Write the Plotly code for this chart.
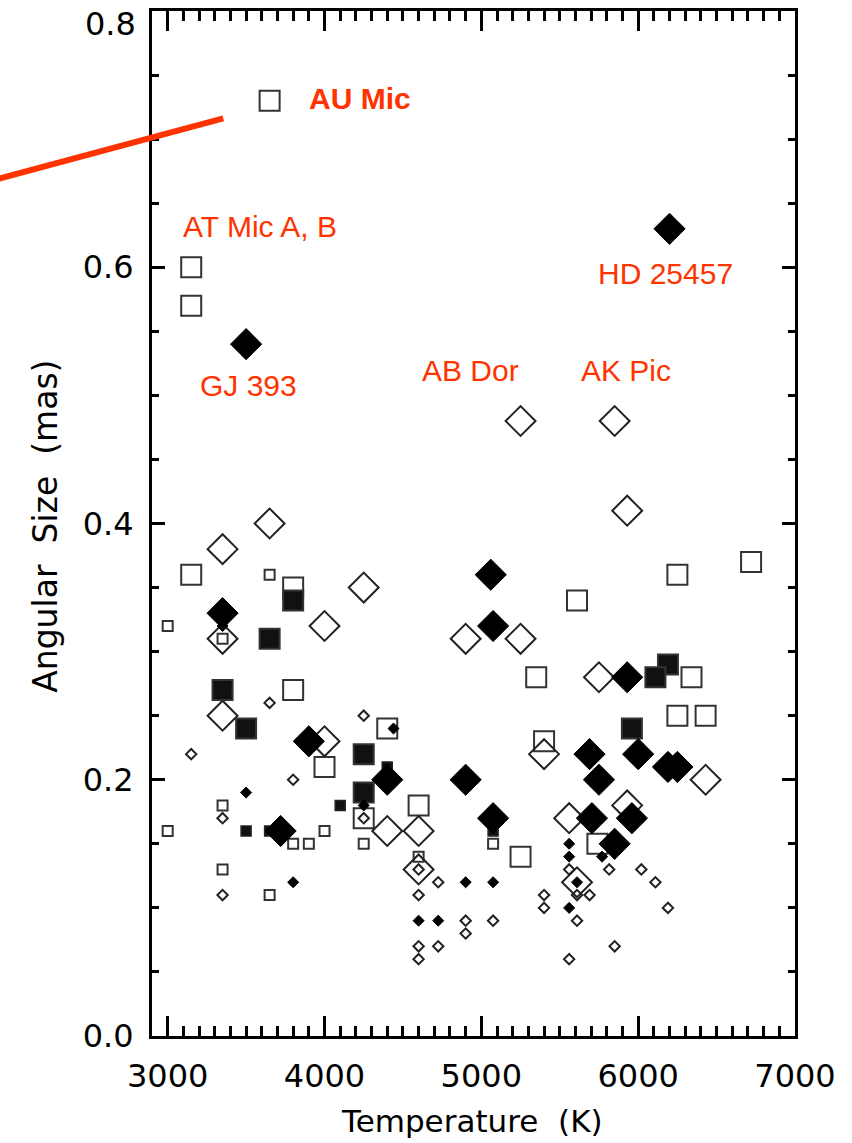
import plotly.graph_objects as go

# ---- data (temperature K, angular size mas) ----
open_sq_large_T = [3650, 3150, 3150, 3150, 3800, 3800, 4000, 4400, 4250, 4600, 5250, 5350, 5400, 5610, 5740, 6250, 6340, 6250, 6430, 6720]
open_sq_large_A = [0.73, 0.60, 0.57, 0.36, 0.35, 0.27, 0.21, 0.24, 0.17, 0.18, 0.14, 0.28, 0.23, 0.34, 0.15, 0.36, 0.28, 0.25, 0.25, 0.37]

open_sq_small_T = [3000, 3650, 3350, 3000, 3350, 3350, 3650, 3800, 3900, 4000, 4250, 4600, 5075]
open_sq_small_A = [0.32, 0.36, 0.31, 0.16, 0.18, 0.13, 0.11, 0.15, 0.15, 0.16, 0.15, 0.14, 0.15]

open_dia_large_T = [5250, 5850, 5930, 3650, 3350, 4250, 4000, 3350, 4900, 5250, 3350, 4000, 5750, 5400, 6430, 4400, 4600, 4600, 5560, 5930, 5610]
open_dia_large_A = [0.48, 0.48, 0.41, 0.40, 0.38, 0.35, 0.32, 0.31, 0.31, 0.31, 0.25, 0.23, 0.28, 0.22, 0.20, 0.16, 0.16, 0.13, 0.17, 0.18, 0.12]

open_dia_small_T = [3650, 3150, 4250, 3800, 3350, 3350, 4250, 4600, 4600, 4725, 4600, 4600, 4725, 4900, 4900, 5075, 5400, 5400, 5560, 5610, 5690, 5610, 5560, 5815, 6020, 6110, 6190, 5850]
open_dia_small_A = [0.26, 0.22, 0.25, 0.20, 0.17, 0.11, 0.17, 0.13, 0.11, 0.12, 0.07, 0.06, 0.07, 0.09, 0.08, 0.09, 0.11, 0.10, 0.13, 0.11, 0.11, 0.09, 0.06, 0.13, 0.13, 0.12, 0.10, 0.07]

filled_sq_large_T = [3800, 3650, 3350, 3500, 4250, 4250, 6190, 6110, 5960]
filled_sq_large_A = [0.34, 0.31, 0.27, 0.24, 0.22, 0.19, 0.29, 0.28, 0.24]

filled_sq_small_T = [3500, 4100, 3650, 4400, 5075]
filled_sq_small_A = [0.16, 0.18, 0.16, 0.21, 0.16]

filled_dia_large_T = [3500, 6200, 3350, 5060, 5075, 3900, 4400, 4900, 3720, 5930, 5690, 6000, 5750, 6190, 6250, 5075, 5705, 5960, 5850]
filled_dia_large_A = [0.54, 0.63, 0.33, 0.36, 0.32, 0.23, 0.20, 0.20, 0.16, 0.28, 0.22, 0.22, 0.20, 0.21, 0.21, 0.17, 0.17, 0.17, 0.15]

filled_dia_small_T = [3500, 3800, 4900, 5075, 4600, 4725, 4440, 5560, 5560, 5770, 5610, 5560, 3350, 4250]
filled_dia_small_A = [0.19, 0.12, 0.12, 0.12, 0.09, 0.09, 0.24, 0.15, 0.14, 0.14, 0.12, 0.10, 0.32, 0.18]

x_ticks = [3000, 4000, 5000, 6000, 7000]
y_ticks = [0.0, 0.2, 0.4, 0.6, 0.8]

labels = ["AU Mic", "AT Mic A, B", "HD 25457", "GJ 393", "AB Dor", "AK Pic"]
label_T = [3891, 3084, 5732, 3192, 4608, 5624]
label_A = [0.732, 0.632, 0.595, 0.508, 0.5195, 0.5195]
label_bold = [True, False, False, False, False, False]

RED = "#FF3300"
TICKFONT = dict(family="DejaVu Sans", size=32, color="black")

fig = go.Figure()

def add(T, A, symbol, size, fill, line_color, lw):
    fig.add_trace(go.Scatter(
        x=T, y=A, mode="markers", showlegend=False, hoverinfo="skip",
        marker=dict(symbol=symbol, size=size, color=fill,
                    line=dict(color=line_color, width=lw))))

add(open_sq_large_T, open_sq_large_A, "square", 20, "rgba(0,0,0,0)", "#333333", 2)
add(open_sq_small_T, open_sq_small_A, "square", 10, "rgba(0,0,0,0)", "#333333", 2)
add(open_dia_large_T, open_dia_large_A, "diamond", 23, "rgba(0,0,0,0)", "#222222", 2)
add(open_dia_small_T, open_dia_small_A, "diamond", 8, "rgba(0,0,0,0)", "#222222", 2)
add(filled_sq_large_T, filled_sq_large_A, "square", 20, "#111111", "#333333", 2)
add(filled_sq_small_T, filled_sq_small_A, "square", 10, "#111111", "#222222", 1.5)
add(filled_dia_large_T, filled_dia_large_A, "diamond", 24, "#000000", "#000000", 1)
add(filled_dia_small_T, filled_dia_small_A, "diamond", 8.5, "#000000", "#000000", 1)

for t, a, txt, b in zip(label_T, label_A, labels, label_bold):
    fig.add_annotation(x=t, y=a, xref="x", yref="y", text=(f"<b>{txt}</b>" if b else txt),
                       showarrow=False, xanchor="left", yanchor="middle",
                       font=dict(family="Liberation Sans", size=30, color=RED))

# red pointer line (decorative, extends beyond the axes)
fig.add_shape(type="line", xref="paper", yref="paper",
              x0=-0.2514, y0=0.8342, x1=0.1108, y1=0.8953,
              line=dict(color=RED, width=6))

# axis titles as annotations
fig.add_annotation(text="Temperature  (K)", xref="paper", yref="paper",
                   x=0.497, y=-0.083, showarrow=False, xanchor="center", yanchor="middle",
                   font=dict(family="DejaVu Sans", size=31, color="black"))
fig.add_annotation(text="Angular  Size  (mas)", xref="paper", yref="paper",
                   x=-0.166, y=0.497, showarrow=False, textangle=-90,
                   xanchor="center", yanchor="middle",
                   font=dict(family="DejaVu Sans", size=33, color="black"))

# top y tick label sits just below the top edge (as in the original)
y_ticktext = [f"{v:.1f}" for v in y_ticks]
top_label = y_ticktext[-1]
y_ticktext[-1] = ""
fig.add_annotation(text=top_label, xref="paper", yref="paper", x=-0.0215, y=1.0,
                   xanchor="right", yanchor="top", yshift=8, showarrow=False,
                   font=TICKFONT)

axis_common = dict(showgrid=False, zeroline=False, showline=True, linecolor="black",
                   linewidth=3, mirror="allticks", ticks="inside", tickcolor="black",
                   tickwidth=2.5, ticklabeloverflow="allow", automargin=False,
                   tickfont=TICKFONT)

fig.update_xaxes(range=[2900, 7000], tickvals=x_ticks, ticktext=[str(v) for v in x_ticks],
                 ticklen=20, ticklabelstandoff=10,
                 minor=dict(ticks="inside", ticklen=10, dtick=100, tick0=2900,
                            tickwidth=2.5, tickcolor="black"),
                 **axis_common)
fig.update_yaxes(range=[0, 0.8], tickvals=y_ticks, ticktext=y_ticktext,
                 ticklen=13, ticklabelstandoff=9,
                 minor=dict(ticks="inside", ticklen=7, dtick=0.05, tick0=0,
                            tickwidth=2.5, tickcolor="black"),
                 **axis_common)

fig.update_layout(width=852, height=1143, margin=dict(l=152, r=57, t=11, b=107),
                  plot_bgcolor="white", paper_bgcolor="white")

fig.write_html("out.html")
